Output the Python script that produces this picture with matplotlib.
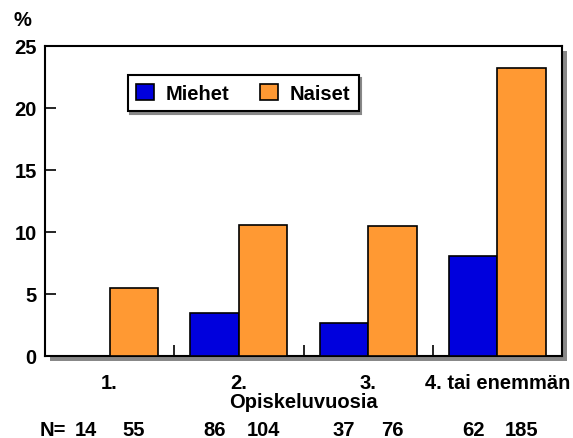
import matplotlib
matplotlib.use("Agg")
import matplotlib.pyplot as plt
import matplotlib.transforms as mtrans
from matplotlib.patches import Rectangle
import numpy as np

categories = ["1.", "2.", "3.", "4. tai enemmän"]
miehet = [0.0, 3.5, 2.7, 8.1]
naiset = [5.5, 10.6, 10.5, 23.2]
n_miehet = [14, 86, 37, 62]
n_naiset = [55, 104, 76, 185]
yticks = [0, 5, 10, 15, 20, 25]

plt.rcParams['font.family'] = ['Liberation Sans', 'DejaVu Sans']
plt.rcParams['font.weight'] = 'bold'
FS = 14.5

fig = plt.figure(figsize=(5.73, 4.39), dpi=100)
L, R, B, T = 45/573, 562/573, 1-357/439, 1-47/439
ax = fig.add_axes([L, B, R-L, T-B])
ax.set_zorder(2)

# shadow of the plot area
sh = Rectangle((L + 5/573, B - 5/439), R-L, T-B, transform=fig.transFigure,
               facecolor='#888888', edgecolor='none', zorder=1)
fig.add_artist(sh)
ax.set_facecolor('white')

x = np.arange(len(categories))
w = 0.375
ax.bar(x - w, miehet, width=w, align='edge', color='#0000DD', edgecolor='black', linewidth=1.2, label='Miehet', zorder=3)
ax.bar(x, naiset, width=w, align='edge', color='#FF9933', edgecolor='black', linewidth=1.2, label='Naiset', zorder=3)

ax.set_xlim(-0.5, 3.5)
ax.set_ylim(0, 25)
ax.set_yticks(yticks)
ax.set_yticklabels([str(v) for v in yticks], fontsize=FS, fontweight='bold')
ax.tick_params(axis='y', direction='in', length=8, width=1.2, pad=6)
ax.set_xticks(x)
ax.set_xticklabels(categories, fontsize=FS, fontweight='bold')
ax.tick_params(axis='x', which='major', length=0, pad=12)
ax.set_xticks([0.5, 1.5, 2.5], minor=True)
ax.tick_params(axis='x', which='minor', direction='in', length=8, width=1.2)
for s in ax.spines.values():
    s.set_linewidth(1.5)
ax.set_xlabel('Opiskeluvuosia', fontsize=FS, fontweight='bold', labelpad=0)

fig.text(22/573, 1-20/439, '%', fontsize=FS, fontweight='bold', ha='center', va='center')

leg = ax.legend(loc='upper left', bbox_to_anchor=(0.16, 0.905), ncol=2, frameon=True,
                fancybox=False, shadow={'color': '#888888', 'alpha': 1.0}, prop={'size': FS, 'weight': 'bold'},
                handlelength=0.9, handleheight=0.9, handletextpad=0.6, columnspacing=1.5,
                borderpad=0.4, borderaxespad=0)
leg.get_frame().set_edgecolor('black')
leg.get_frame().set_linewidth(1.5)

trans = mtrans.blended_transform_factory(ax.transData, fig.transFigure)
ny = 1 - 431/439
fig.text(53/573, ny, 'N=', fontsize=FS, fontweight='bold', ha='center', va='center')
for i in range(len(categories)):
    ax.text(x[i] - w/2, ny, str(n_miehet[i]), transform=trans, fontsize=FS, fontweight='bold', ha='center', va='center')
    ax.text(x[i] + w/2, ny, str(n_naiset[i]), transform=trans, fontsize=FS, fontweight='bold', ha='center', va='center')

fig.savefig('out.png', dpi=100)
